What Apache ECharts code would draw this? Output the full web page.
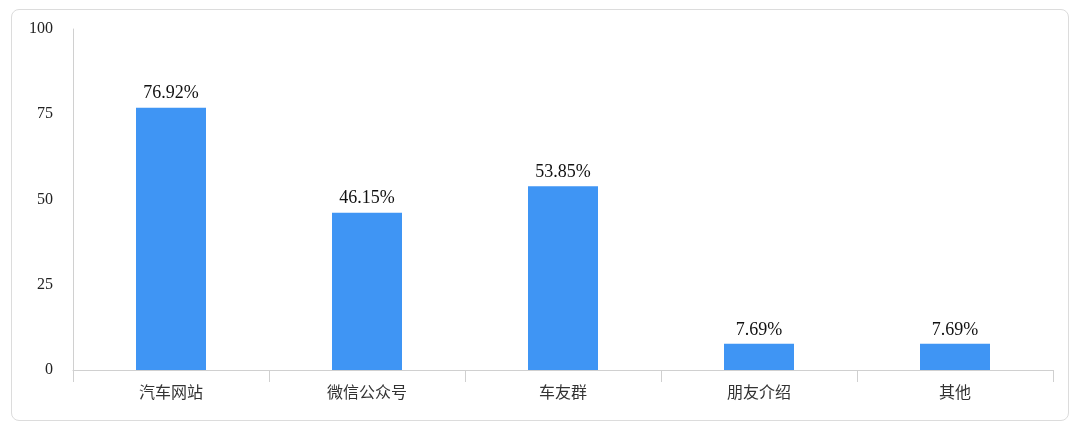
<!DOCTYPE html>
<html>
<head>
<meta charset="utf-8">
<script src="https://cdn.jsdelivr.net/npm/echarts@6/dist/echarts.min.js"></script>
<style>
  html, body { margin: 0; padding: 0; background: #fff; }
  #wrap { position: relative; width: 1080px; height: 430px; }
  #box { position: absolute; left: 11px; top: 9px; width: 1058px; height: 412px;
         border: 1px solid #dcdcdc; border-radius: 8px; box-sizing: border-box; }
  #main { position: absolute; left: 0; top: 0; width: 1080px; height: 430px; }
</style>
</head>
<body>
<div id="wrap">
  <div id="box"></div>
  <div id="main"></div>
</div>
<script>
// 渠道
var categories = ["汽车网站", "微信公众号", "车友群", "朋友介绍", "其他"];
// 占比 %
var values = [76.92, 46.15, 53.85, 7.69, 7.69];
var yTicks = [0, 25, 50, 75, 100];

var myChart = echarts.init(document.getElementById("main"));
var option = {
  animation: false,
  grid: { left: 73, right: 27, top: 29, bottom: 60, containLabel: false },
  xAxis: {
    type: "category",
    data: categories,
    axisLine: { lineStyle: { color: "#d0d0d0", width: 1 } },
    axisTick: { show: true, length: 12, lineStyle: { color: "#d0d0d0" } },
    axisLabel: {
      color: "#333",
      fontSize: 16,
      margin: 14,
      fontFamily: "Noto Sans CJK SC"
    }
  },
  yAxis: {
    type: "value",
    min: yTicks[0],
    max: yTicks[yTicks.length - 1],
    interval: 25,
    axisLine: { show: true, lineStyle: { color: "#d0d0d0" } },
    axisTick: { show: false },
    splitLine: { show: false },
    axisLabel: {
      color: "#222",
      fontSize: 16,
      margin: 20,
      fontFamily: "Liberation Serif"
    }
  },
  series: [
    {
      type: "bar",
      data: values,
      barWidth: 70,
      itemStyle: { color: "#3f95f4" },
      label: {
        show: true,
        position: "top",
        distance: 5,
        color: "#111",
        fontSize: 18,
        fontFamily: "Liberation Serif",
        formatter: function (p) { return p.value.toFixed(2) + "%"; }
      }
    }
  ]
};
myChart.setOption(option);
</script>
</body>
</html>
